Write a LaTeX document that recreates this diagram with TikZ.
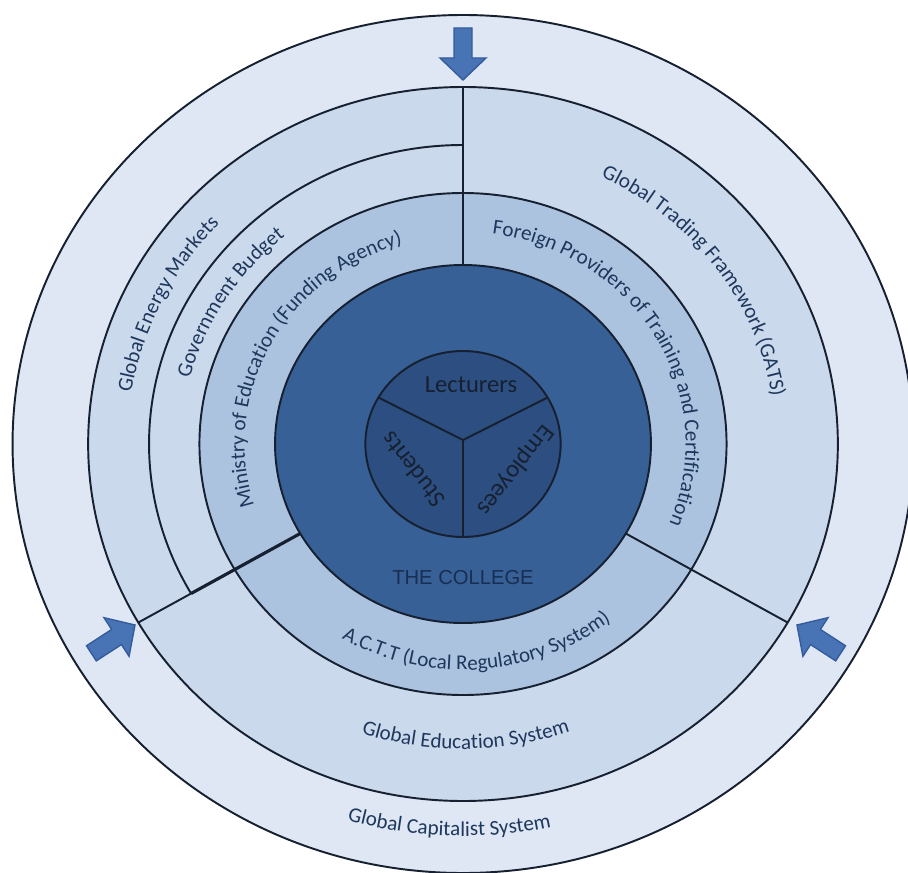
\documentclass[tikz,border=0pt]{standalone}
\usepackage{fontspec}
\setmainfont{Carlito}
\newfontfamily\capsfont{Liberation Sans}
\usetikzlibrary{decorations.text}
\definecolor{bandout}{RGB}{222,231,243}
\definecolor{bandmid}{RGB}{203,217,236}
\definecolor{bandin}{RGB}{172,195,224}
\definecolor{college}{RGB}{55,96,150}
\definecolor{core}{RGB}{44,78,128}
\definecolor{ink}{RGB}{22,32,48}
\definecolor{label}{RGB}{30,55,92}
\definecolor{collegeink}{RGB}{24,46,82}
\definecolor{arrowblue}{RGB}{72,116,182}
\definecolor{arrowedge}{RGB}{52,92,156}

\begin{document}
\begin{tikzpicture}[x=0.02cm,y=0.02cm,
 ring/.style={draw=ink,line width=1.1pt},
 divider/.style={draw=ink,line width=1.1pt},
 along/.style={decorate,decoration={text along path,text align=center,
   text color=label,text={|\fontsize{12}{14}\selectfont|#1}}},
 corelabel/.style={text=ink,font=\fontsize{14}{16}\selectfont},
 inarrow/.pic={\filldraw[fill=arrowblue,draw=arrowedge,line width=0.8pt]
   (-52,-9) -- (-22,-9) -- (-22,-23) -- (0,0) -- (-22,23) -- (-22,9) -- (-52,9) -- cycle;}]
\useasboundingbox (-463,-428) rectangle (445,444);
\fill[white] (-463,-428) rectangle (445,444);

% rings, outside in
\draw[ring,fill=bandout] (0,0) ellipse [x radius=450.45,y radius=429];
\draw[ring,fill=bandmid] (0,0) ellipse [x radius=374.85,y radius=357];
\draw[ring] (90:313.95 and 299) arc[start angle=90,end angle=210,x radius=313.95,y radius=299];
\draw[ring,fill=bandin] (0,0) ellipse [x radius=263.55,y radius=251];
\draw[ring,fill=college] (0,0) ellipse [x radius=187.95,y radius=179];
\draw[ring,fill=core] (0,0) ellipse [x radius=97.65,y radius=93];

% sector walls
\draw[divider] (90:187.95 and 179) -- (90:374.85 and 357);
\draw[divider] (330:187.95 and 179) -- (330:374.85 and 357);
\draw[divider,line width=1.8pt] (210:187.95 and 179) -- (210:313.95 and 299);
\draw[divider] (210:313.95 and 299) -- (210:374.85 and 357);

% core split in three
\coordinate (hub) at (0,4);
\draw[divider] (hub) -- (30:97.65 and 93);
\draw[divider] (hub) -- (150:97.65 and 93);
\draw[divider] (hub) -- (270:97.65 and 93);

\node[corelabel] (lecturers) at (8,59) {Lecturers};
\node[corelabel,rotate=128] (students) at (-50,-26) {Students};
\node[corelabel,rotate=232] (employees) at (52,-26) {Employees};
\node[text=collegeink,font=\capsfont\fontsize{11.5}{13}\selectfont] (collegename) at (0,-134) {THE COLLEGE};

% labels on the rings (clockwise on the sides, anticlockwise at the bottom)
\path[along={Global Capitalist System}] (238:411.6 and 392) arc[start angle=238,end angle=298,x radius=411.6,y radius=392];
\path[along={Global Education System}] (240:320.25 and 305) arc[start angle=240,end angle=301,x radius=320.25,y radius=305];
\path[along={A.C.T.T (Local Regulatory System)}] (226:237.3 and 226) arc[start angle=226,end angle=322,x radius=237.3,y radius=226];
\path[along={Global Energy Markets}] (195:336 and 320) arc[start angle=195,end angle=113,x radius=336,y radius=320];
\path[along={Government Budget}] (190:281.4 and 268) arc[start angle=190,end angle=106,x radius=281.4,y radius=268];
\path[along={Ministry of Education (Funding Agency)}] (215:218.4 and 208) arc[start angle=215,end angle=89,x radius=218.4,y radius=208];
\path[along={Global Trading Framework (GATS)}] (85:312.9 and 298) arc[start angle=85,end angle=-13,x radius=312.9,y radius=298];
\path[along={Foreign Providers of Training and Certification}] (95:222.6 and 212) arc[start angle=95,end angle=-35,x radius=222.6,y radius=212];

% pressure from outside
\pic[rotate=-90] at (0,364) {inarrow};
\pic[rotate=33] at (-328,-181) {inarrow};
\pic[rotate=147] at (334,-181) {inarrow};
\end{tikzpicture}
\end{document}
